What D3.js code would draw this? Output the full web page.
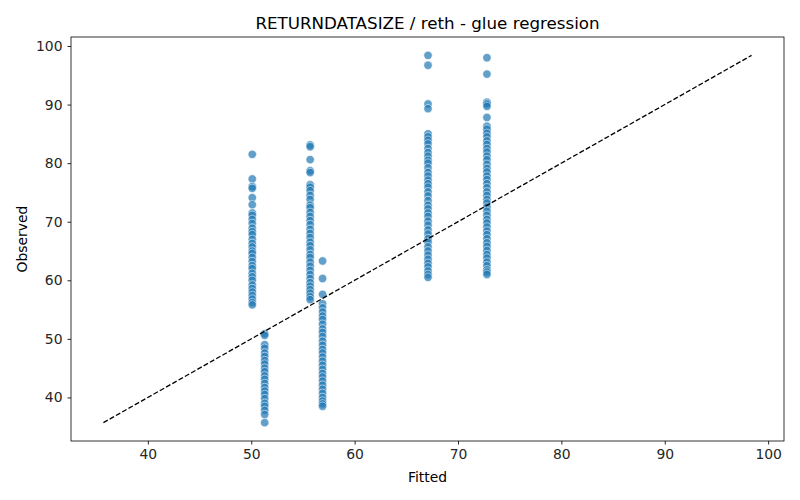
<!DOCTYPE html>
<html>
<head>
<meta charset="utf-8">
<script src="https://cdn.jsdelivr.net/npm/d3@7"></script>
<style>
  body { margin: 0; background: #fff; }
  svg { font-family: "DejaVu Sans", sans-serif; }
</style>
</head>
<body>
<div id="chart"></div>
<script>
const fittedLevels = [50.1, 51.3, 55.7, 56.9, 67.1, 72.8];

const observed50 = [81.5, 77.3, 76.0, 75.7, 74.1, 72.9, 71.5, 71.1, 70.4, 69.7, 68.9, 68.3, 67.8, 67.0,
  66.3, 65.7, 65.0, 64.6, 63.9, 63.2, 62.5, 62.0, 61.2, 60.6, 60.0, 59.2, 58.6, 58.0, 57.4, 56.8, 56.2, 55.8];
const observed51 = [50.9, 50.6, 49.0, 48.4, 47.6, 47.0, 46.3, 45.7, 45.0, 44.4, 43.7, 43.1, 42.4, 41.7,
  41.1, 40.5, 39.8, 39.0, 38.5, 37.8, 37.1, 35.7];
const observed55 = [83.1, 82.8, 80.6, 78.7, 78.4, 76.3, 75.9, 75.3, 74.5, 73.8, 72.8, 72.4, 71.6, 70.9,
  70.2, 69.5, 68.7, 68.0, 67.3, 66.5, 65.9, 65.2, 64.4, 63.9, 63.1, 62.4, 61.7, 61.0, 60.3, 59.6, 59.0,
  58.4, 57.8, 57.2, 56.7];
const observed56 = [63.3, 60.3, 57.6, 56.0, 55.3, 54.6, 53.9, 53.3, 52.5, 51.7, 51.1, 50.4, 49.6, 48.9,
  48.2, 47.6, 46.9, 46.2, 45.5, 44.8, 44.1, 43.5, 42.8, 42.1, 41.4, 40.7, 40.0, 39.4, 38.9, 38.5];
const observed67 = [98.4, 96.7, 90.1, 89.3, 85.0, 84.5, 83.9, 83.3, 82.5, 81.8, 81.2, 80.5, 80.0, 79.2,
  78.4, 77.8, 77.1, 76.5, 75.9, 75.1, 74.4, 73.6, 72.8, 72.2, 71.5, 70.9, 70.1, 69.4, 68.6, 67.9, 67.1,
  66.5, 65.7, 65.0, 64.3, 63.6, 62.9, 62.3, 61.6, 61.0, 60.5];
const observed72 = [98.0, 95.2, 90.4, 90.1, 89.7, 87.8, 86.3, 85.8, 85.1, 84.5, 83.8, 83.2, 82.5, 81.9,
  81.2, 80.6, 79.8, 79.1, 78.5, 77.8, 77.2, 76.5, 75.8, 75.1, 74.5, 73.8, 73.2, 72.5, 71.8, 71.1, 70.4,
  69.8, 69.1, 68.4, 67.8, 67.1, 66.4, 65.8, 65.1, 64.4, 63.8, 63.1, 62.5, 61.8, 61.4, 61.0];

const observedByLevel = [observed50, observed51, observed55, observed56, observed67, observed72];
const xTicks = [40, 50, 60, 70, 80, 90, 100];
const yTicks = [40, 50, 60, 70, 80, 90, 100];

const width = 800, height = 500;
const margin = { top: 37, right: 16, bottom: 59, left: 71 };

const points = [];
observedByLevel.forEach((vals, i) => {
  vals.forEach(v => points.push({ fitted: fittedLevels[i], observed: v }));
});

// reference line spans the observed range, axes get matplotlib-style 5% padding
const lo = d3.min(points, d => d.observed);
const hi = d3.max(points, d => d.observed);
const pad = (hi - lo) * 0.05;

const x = d3.scaleLinear().domain([lo - pad, hi + pad]).range([margin.left, width - margin.right]);
const y = d3.scaleLinear().domain([lo - pad, hi + pad]).range([height - margin.bottom, margin.top]);

const svg = d3.select('#chart').append('svg')
  .attr('width', width)
  .attr('height', height);

svg.append('g')
  .selectAll('circle')
  .data(points)
  .join('circle')
  .attr('cx', d => x(d.fitted))
  .attr('cy', d => y(d.observed))
  .attr('r', 4.2)
  .attr('fill', '#1f77b4')
  .attr('fill-opacity', 0.7)
  .attr('stroke', '#fff')
  .attr('stroke-opacity', 0.7)
  .attr('stroke-width', 0.75);

svg.append('line')
  .attr('x1', x(lo)).attr('y1', y(lo))
  .attr('x2', x(hi)).attr('y2', y(hi))
  .attr('stroke', '#000')
  .attr('stroke-width', 1.3)
  .attr('stroke-dasharray', '5,2.2');

const xAxis = svg.append('g')
  .attr('transform', `translate(0,${height - margin.bottom})`)
  .call(d3.axisBottom(x).tickValues(xTicks).tickSize(3.5).tickPadding(5));
const yAxis = svg.append('g')
  .attr('transform', `translate(${margin.left},0)`)
  .call(d3.axisLeft(y).tickValues(yTicks).tickSize(3.5).tickPadding(5));

[xAxis, yAxis].forEach(g => {
  g.select('.domain').remove();
  g.selectAll('text').attr('font-size', 13.9).attr('fill', '#262626')
    .attr('font-family', 'DejaVu Sans, sans-serif');
  g.selectAll('line').attr('stroke', '#262626');
});

// frame
svg.append('rect')
  .attr('x', margin.left).attr('y', margin.top)
  .attr('width', width - margin.left - margin.right)
  .attr('height', height - margin.top - margin.bottom)
  .attr('fill', 'none')
  .attr('stroke', '#000')
  .attr('stroke-width', 0.8);

svg.append('text')
  .attr('x', (margin.left + width - margin.right) / 2)
  .attr('y', 29)
  .attr('text-anchor', 'middle')
  .attr('font-size', 16.7)
  .text('RETURNDATASIZE / reth - glue regression');

svg.append('text')
  .attr('x', (margin.left + width - margin.right) / 2)
  .attr('y', 482)
  .attr('text-anchor', 'middle')
  .attr('font-size', 13.9)
  .text('Fitted');

svg.append('text')
  .attr('transform', `translate(27,${(margin.top + height - margin.bottom) / 2}) rotate(-90)`)
  .attr('text-anchor', 'middle')
  .attr('font-size', 13.9)
  .text('Observed');
</script>
</body>
</html>
